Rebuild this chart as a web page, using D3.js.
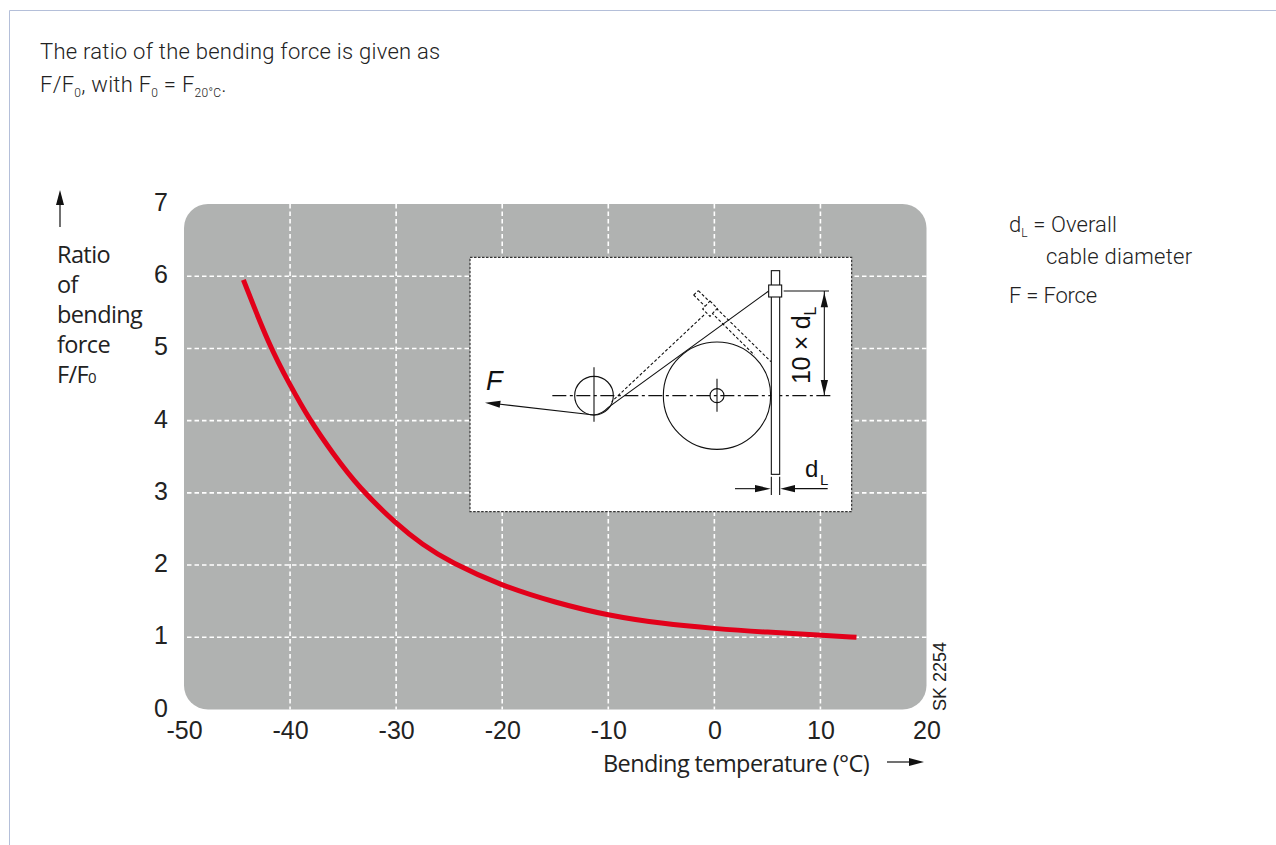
<!DOCTYPE html>
<html><head><meta charset="utf-8">
<script src="https://cdn.jsdelivr.net/npm/d3@7"></script>
<style>html,body{margin:0;padding:0;background:#fff;overflow:hidden}svg{display:block}</style>
</head><body><svg id="c" width="1276" height="845"></svg>
<script>
const temps  = [-44.4,-42,-40,-38.2,-36,-33.5,-30,-27.5,-24.9,-20,-15,-10,-5,0,5,10,13.4];
const ratios = [5.95,5.05,4.49,4.02,3.55,3.07,2.57,2.28,2.04,1.71,1.48,1.3,1.19,1.12,1.07,1.03,1.0];
const xTicks = [-50,-40,-30,-20,-10,0,10,20];
const yTicks = [0,1,2,3,4,5,6,7];
const xGrid = [-40,-30,-20,-10,0,10];
const yGrid = [1,2,3,4,5,6];
const yTitle = ["Ratio","of","bending","force"];

const svg = d3.select("#c");
const x = d3.scaleLinear().domain([-50,20]).range([184,926.5]);
const y = d3.scaleLinear().domain([0,7]).range([709.5,204]);
const HEAD = "Roboto", AX = "'Liberation Sans'", LAB = "'Open Sans'";

svg.append("path").attr("d","M9.5 845V10.5H1276").attr("fill","none").attr("stroke","#b4bfd9").attr("stroke-width",1);

function txt(px,py,size,fam,ls){ return svg.append("text").attr("x",px).attr("y",py).attr("font-size",size)
  .attr("font-family",fam).attr("font-weight",300).attr("letter-spacing",ls||0).attr("fill","#222"); }

// header
txt(40,58.5,22,HEAD,0.26).text("The ratio of the bending force is given as");
let t = txt(40,91.5,22,HEAD,0.26);
t.append("tspan").text("F/F");
t.append("tspan").text("0").attr("font-size",12).attr("dy",5);
t.append("tspan").text(", with F").attr("dy",-5);
t.append("tspan").text("0").attr("font-size",12).attr("dy",5);
t.append("tspan").text(" = F").attr("dy",-5);
t.append("tspan").text("20°C").attr("font-size",12).attr("dy",5);
t.append("tspan").text(".").attr("dy",-5);

// plot background
svg.append("rect").attr("x",x(-50)).attr("y",y(7)).attr("width",x(20)-x(-50)).attr("height",y(0)-y(7))
  .attr("rx",24).attr("fill","#b0b2b1");
const g = svg.append("g");
g.selectAll(".vg").data(xGrid).join("line").attr("x1",d=>x(d)).attr("x2",d=>x(d)).attr("y1",y(7)).attr("y2",y(0))
  .attr("stroke","#fff").attr("stroke-width",1.6).attr("stroke-dasharray","4.5 3");
g.selectAll(".hg").data(yGrid).join("line").attr("y1",d=>y(d)).attr("y2",d=>y(d)).attr("x1",x(-50)+3).attr("x2",x(20))
  .attr("stroke","#fff").attr("stroke-width",1.6).attr("stroke-dasharray","4.5 3");

// inset diagram, coordinates in its own drawing units
const ix = d3.scaleLinear().domain([0,1185]).range([465,860]);
const iy = d3.scaleLinear().domain([0,810]).range([250,520]);
const inset = svg.append("g").attr("fill","none").attr("stroke","#111").attr("stroke-width",1.1);
const k = 1/3;
inset.append("rect").attr("x",ix(15)).attr("y",iy(22)).attr("width",ix(1160)-ix(15)).attr("height",iy(785)-iy(22))
  .attr("fill","#fff").attr("stroke","#333").attr("stroke-width",1.2).attr("stroke-dasharray","2.5 1.5");
const L=(a,b,c,d,dash)=>{const l=inset.append("line").attr("x1",ix(a)).attr("y1",iy(b)).attr("x2",ix(c)).attr("y2",iy(d)); if(dash)l.attr("stroke-dasharray",dash);return l;};
const C=(a,b,r)=>inset.append("circle").attr("cx",ix(a)).attr("cy",iy(b)).attr("r",r*k);
const HEADS=(pts)=>inset.append("polygon").attr("points",pts.map(p=>ix(p[0])+","+iy(p[1])).join(" ")).attr("fill","#111").attr("stroke","none");
L(262,437,1098,437,"14 3.5 3 3.5");
C(387,437,58); L(387,352,387,515);
C(756,437,161); C(756,437,21); L(756,386,756,485);
inset.append("rect").attr("x",ix(919)).attr("y",iy(62)).attr("width",ix(944)-ix(919)).attr("height",iy(673)-iy(62)).attr("fill","#fff");
L(717,195,440,455,"3 2");
L(700,122,918,335,"3 2");
L(686,135,868,315,"3 2");
L(686,135,700,122,"3 2");
inset.append("polygon").attr("points",[[735,153],[757,175],[735,199],[713,177]].map(p=>ix(p[0])+","+iy(p[1])).join(" ")).attr("fill","#fff").attr("stroke-dasharray","3 2");
inset.append("path").attr("d",`M${ix(911)} ${iy(123)}L${ix(430)} ${iy(472)}Q${ix(410)} ${iy(493)} ${ix(387)} ${iy(495)}L${ix(100)} ${iy(462)}`);
HEADS([[60,458],[107,452],[104,473]]);
inset.append("rect").attr("x",ix(911)).attr("y",iy(105)).attr("width",ix(950)-ix(911)).attr("height",iy(141)-iy(105)).attr("fill","#fff");
L(956,123,1092,123); L(1078,123,1078,437);
HEADS([[1078,128],[1067,172],[1089,172]]); HEADS([[1078,434],[1067,390],[1089,390]]);
L(919,680,919,735); L(944,680,944,735);
L(810,716,880,716); L(985,716,1088,716);
HEADS([[917,716],[870,705],[870,727]]); HEADS([[946,716],[990,705],[990,727]]);
svg.append("text").attr("x",486).attr("y",390).attr("font-family",AX).attr("font-style","italic").attr("font-size",27).attr("fill","#111").text("F");
svg.append("text").attr("x",805).attr("y",477).attr("font-family",AX).attr("font-size",24).attr("fill","#111").text("d");
svg.append("text").attr("x",820).attr("y",485).attr("font-family",AX).attr("font-size",15).attr("fill","#111").text("L");
const rot = svg.append("text").attr("transform","translate(810,384) rotate(-90)").attr("font-family",AX).attr("font-size",25).attr("letter-spacing",-0.3).attr("fill","#111");
rot.append("tspan").text("10 × d");
rot.append("tspan").text("L").attr("font-size",16).attr("dy",6);

// curve
svg.append("path").datum(temps.map((d,i)=>[d,ratios[i]]))
  .attr("d",d3.line().x(d=>x(d[0])).y(d=>y(d[1])).curve(d3.curveBasis))
  .attr("fill","none").attr("stroke","#e2001a").attr("stroke-width",5);

// axes
const ax = svg.append("g").attr("transform","translate(0,709.5)")
  .call(d3.axisBottom(x).tickValues(xTicks).tickSize(0).tickPadding(0).tickFormat(d=>String(d)));
ax.select(".domain").remove();
ax.selectAll("text").attr("font-family",AX).attr("font-size",25).attr("fill","#222").attr("dy","0").attr("y",29);
const ay = svg.append("g")
  .call(d3.axisLeft(y).tickValues(yTicks).tickSize(0).tickPadding(0).tickFormat(d=>String(d)));
ay.select(".domain").remove();
ay.selectAll("text").attr("font-family",AX).attr("font-size",25).attr("fill","#222").attr("x",161).attr("text-anchor","middle").attr("dy","0.26em");

// axis titles
yTitle.forEach((s,i)=>{ svg.append("text").attr("x",57).attr("y",263+i*30).attr("font-family",LAB).attr("font-size",23.5).attr("letter-spacing",-0.6).attr("fill","#222").text(s); });
const ft = svg.append("text").attr("x",57).attr("y",383).attr("font-family",LAB).attr("font-size",23.5).attr("letter-spacing",-0.6).attr("fill","#222");
ft.append("tspan").text("F/F"); ft.append("tspan").text("0").attr("font-size",15);
svg.append("text").attr("x",603).attr("y",772).attr("font-family",LAB).attr("font-size",23.5).attr("letter-spacing",-0.6).attr("fill","#222").text("Bending temperature (°C)");
const arrow=(a,b,c,d)=>svg.append("line").attr("x1",a).attr("y1",b).attr("x2",c).attr("y2",d).attr("stroke","#111").attr("stroke-width",1.2);
arrow(60,227,60,200); svg.append("polygon").attr("points","60,190 56,205 64,205").attr("fill","#111");
arrow(887,762,912,762); svg.append("polygon").attr("points","924,762 909,758 909,766").attr("fill","#111");
svg.append("text").attr("transform","translate(946,711) rotate(-90)").attr("font-family",AX).attr("font-size",18).attr("fill","#222").text("SK 2254");

// legend
let l1 = txt(1009,232,22,HEAD,0.1);
l1.append("tspan").text("d"); l1.append("tspan").text("L").attr("font-size",12).attr("dy",5); l1.append("tspan").text(" = Overall").attr("dy",-5);
txt(1046,264,22,HEAD,0.26).text("cable diameter");
txt(1009,303,22,HEAD,-0.2).text("F = Force");
</script></body></html>
